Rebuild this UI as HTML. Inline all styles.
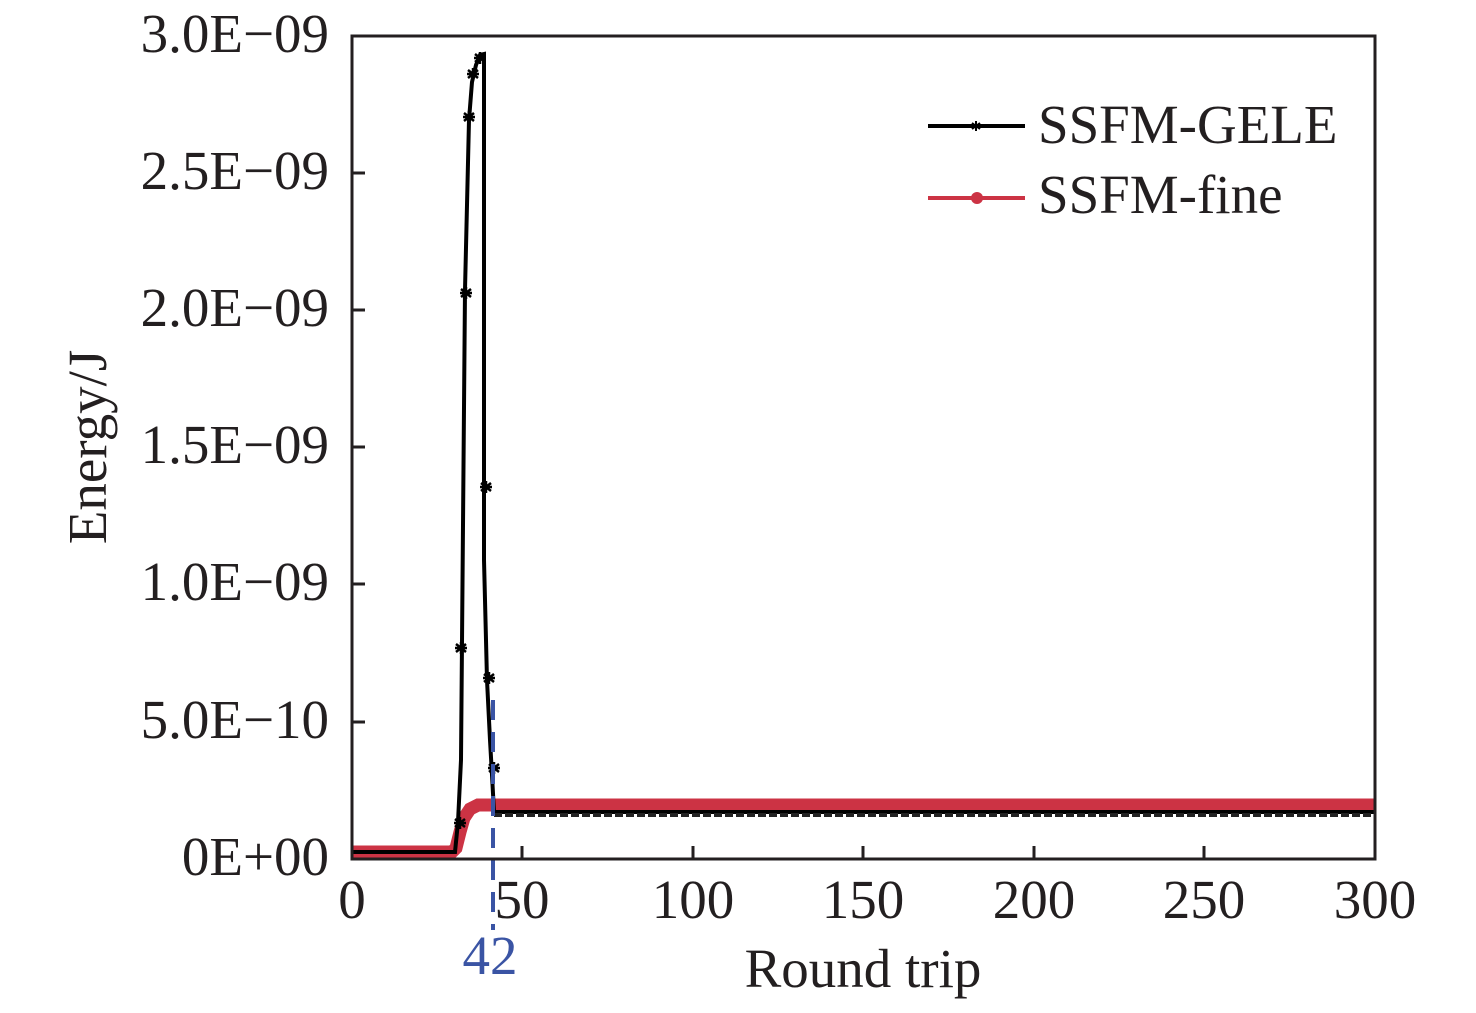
<!DOCTYPE html>
<html><head><style>body{margin:0;background:#fff}</style></head><body>
<svg width="1476" height="1008" xmlns="http://www.w3.org/2000/svg" font-family="'Liberation Serif', serif" font-size="55" fill="#231f20">
<rect width="1476" height="1008" fill="#fff"/>
<path d="M352,852 L452,852 L456,848 L460,832 L464,818 L470,809 L478,805 L1375,805" stroke="#cc3344" stroke-width="13" fill="none"/>
<path d="M352,852 L455,852 L458,822 L461,760 L465,290 L469,120 L472,82 L476,65 L480,55 L484,54 L484,560 L487,680 L490,740 L492,775 L494,812 L1375,812" stroke="#000" stroke-width="4" fill="none"/>
<line x1="494" y1="815" x2="1375" y2="815" stroke="#222" stroke-width="4" stroke-dasharray="8,3"/>
<g stroke="#000" stroke-width="2.5">
<path d="M455,648l12,0m-6,-6l0,12m-5,-10l10,8m0,-8l-10,8"/>
<path d="M460,293l12,0m-6,-6l0,12m-5,-10l10,8m0,-8l-10,8"/>
<path d="M463,117l12,0m-6,-6l0,12m-5,-10l10,8m0,-8l-10,8"/>
<path d="M467,74l12,0m-6,-6l0,12m-5,-10l10,8m0,-8l-10,8"/>
<path d="M474,58l12,0m-6,-6l0,12m-5,-10l10,8m0,-8l-10,8"/>
<path d="M480,487l12,0m-6,-6l0,12m-5,-10l10,8m0,-8l-10,8"/>
<path d="M483,678l12,0m-6,-6l0,12m-5,-10l10,8m0,-8l-10,8"/>
<path d="M488,768l12,0m-6,-6l0,12m-5,-10l10,8m0,-8l-10,8"/>
<path d="M454,823l12,0m-6,-6l0,12m-5,-10l10,8m0,-8l-10,8"/>
</g>
<line x1="493" y1="700" x2="493" y2="930" stroke="#3a54a4" stroke-width="4" stroke-dasharray="20,12"/>
<rect x="352" y="36" width="1023" height="823" fill="none" stroke="#231f20" stroke-width="3"/>
<g stroke="#231f20" stroke-width="3">
<line x1="352" y1="173" x2="365" y2="173"/><line x1="352" y1="310" x2="365" y2="310"/>
<line x1="352" y1="447" x2="365" y2="447"/><line x1="352" y1="584" x2="365" y2="584"/>
<line x1="352" y1="722" x2="365" y2="722"/>
<line x1="522" y1="859" x2="522" y2="846"/><line x1="693" y1="859" x2="693" y2="846"/>
<line x1="863" y1="859" x2="863" y2="846"/><line x1="1034" y1="859" x2="1034" y2="846"/>
<line x1="1204" y1="859" x2="1204" y2="846"/>
</g>
<g text-anchor="end">
<text x="329" y="52">3.0E−09</text><text x="329" y="189">2.5E−09</text>
<text x="329" y="326">2.0E−09</text><text x="329" y="463">1.5E−09</text>
<text x="329" y="600">1.0E−09</text><text x="329" y="738">5.0E−10</text>
<text x="329" y="875">0E+00</text>
</g>
<g text-anchor="middle">
<text x="352" y="918">0</text><text x="522" y="918">50</text><text x="693" y="918">100</text>
<text x="863" y="918">150</text><text x="1034" y="918">200</text><text x="1204" y="918">250</text>
<text x="1375" y="918">300</text>
<text x="490" y="974" fill="#3a54a4">42</text>
<text x="863" y="987">Round trip</text>
<text transform="translate(106,447) rotate(-90)">Energy/J</text>
</g>
<line x1="928" y1="126" x2="1025" y2="126" stroke="#000" stroke-width="4"/>
<path d="M971,126l10,0m-5,-5l0,10m-4,-8l8,6m0,-6l-8,6" stroke="#000" stroke-width="2"/>
<text x="1038" y="143">SSFM-GELE</text>
<line x1="928" y1="198" x2="1025" y2="198" stroke="#cc3344" stroke-width="4"/>
<circle cx="977" cy="198" r="6" fill="#cc3344"/>
<text x="1038" y="213">SSFM-fine</text>
</svg>
</body></html>
